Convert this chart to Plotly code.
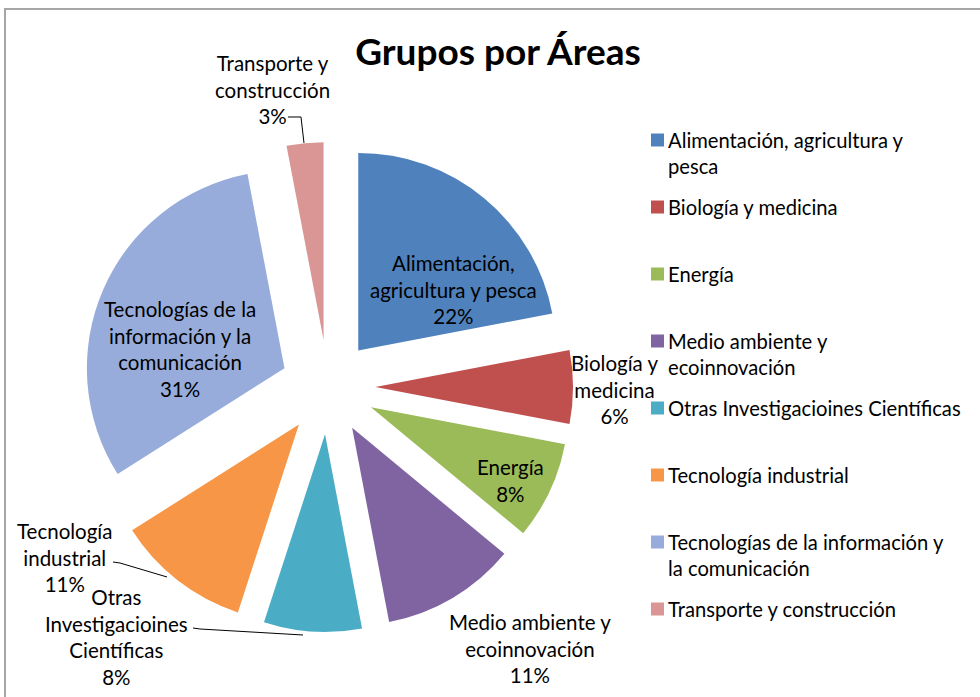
import plotly.graph_objects as go

# ---------------- data ----------------
categories = [
    "Alimentación, agricultura y pesca",
    "Biología y medicina",
    "Energía",
    "Medio ambiente y ecoinnovación",
    "Otras Investigacioines Científicas",
    "Tecnología industrial",
    "Tecnologías de la información y la comunicación",
    "Transporte y construcción",
]
values = [22, 6, 8, 11, 8, 11, 31, 3]
colors = ["#4F81BD", "#C0504D", "#9BBB59", "#8064A2",
          "#4BACC6", "#F79646", "#97ACDA", "#D99694"]

# wrapped texts as laid out on the chart
slice_text_lines = [
    ["Alimentación,", "agricultura y pesca"],
    ["Biología y", "medicina"],
    ["Energía"],
    ["Medio ambiente y", "ecoinnovación"],
    ["Otras", "Investigacioines", "Científicas"],
    ["Tecnología", "industrial"],
    ["Tecnologías de la", "información y la", "comunicación"],
    ["Transporte y", "construcción"],
]
legend_lines = [
    ["Alimentación, agricultura y", "pesca"],
    ["Biología y medicina"],
    ["Energía"],
    ["Medio ambiente y", "ecoinnovación"],
    ["Otras Investigacioines Científicas"],
    ["Tecnología industrial"],
    ["Tecnologías de la información y", "la comunicación"],
    ["Transporte y construcción"],
]
title_text = "Grupos por Áreas"

# ---------------- layout helpers ----------------
W, H = 980, 697
FONT = "Lato"


def px(x):
    return x / W


def py(y):
    return 1 - y / H


# slice label centres (pixels)
label_pos = [(453, 290), (614, 389), (510, 480), (530, 648),
             (116, 637), (64, 557), (180, 349), (272, 89)]

total = sum(values)
pcts = [round(100 * v / total) for v in values]

fig = go.Figure()
fig.add_trace(go.Pie(
    labels=categories,
    values=values,
    marker=dict(colors=colors, line=dict(width=0)),
    sort=False,
    direction="clockwise",
    rotation=0,
    pull=[0.24] * len(values),
    textinfo="none",
    hoverinfo="label+percent",
    showlegend=False,
    domain=dict(x=[px(83), px(573)], y=[py(632), py(142)]),
))

annotations = []
for lines, p, (x, y) in zip(slice_text_lines, pcts, label_pos):
    annotations.append(dict(
        x=px(x), y=py(y), xref="paper", yref="paper",
        text="<br>".join(lines + [f"{p}%"]),
        showarrow=False, xanchor="center", yanchor="middle", align="center",
        font=dict(family=FONT, size=20.5, color="#000000"),
    ))

# manual legend with evenly spaced entries
leg_x0, leg_y0, leg_step, sq = 651, 140, 67, 13
shapes = []
for i, (lines, c) in enumerate(zip(legend_lines, colors)):
    yc = leg_y0 + i * leg_step
    shapes.append(dict(type="rect", xref="paper", yref="paper",
                       x0=px(leg_x0), x1=px(leg_x0 + sq),
                       y0=py(yc + sq / 2), y1=py(yc - sq / 2),
                       fillcolor=c, line=dict(width=0)))
    annotations.append(dict(
        x=px(leg_x0 + sq + 2), y=py(yc - 14), xref="paper", yref="paper",
        text="<br>".join(lines), showarrow=False,
        xanchor="left", yanchor="top", align="left",
        font=dict(family=FONT, size=20.2, color="#000000"),
    ))

# leader lines
leaders = [
    [(288, 117), (301, 117), (304, 143)],
    [(113, 562), (120, 563), (167, 577)],
    [(193, 628), (200, 629), (303, 635)],
]
for pts in leaders:
    path = "M " + " L ".join(f"{px(a):.5f},{py(b):.5f}" for a, b in pts)
    shapes.append(dict(type="path", xref="paper", yref="paper", path=path,
                       line=dict(color="#000000", width=1)))

# chart-area frame
shapes.append(dict(type="rect", xref="paper", yref="paper",
                   x0=px(5), x1=1.02, y0=-0.02, y1=py(9),
                   line=dict(color="#A6A6A6", width=2), fillcolor="rgba(0,0,0,0)"))

fig.update_layout(
    width=W, height=H,
    margin=dict(l=0, r=0, t=0, b=0),
    paper_bgcolor="#FFFFFF",
    plot_bgcolor="#FFFFFF",
    title=dict(text=title_text, x=px(498), y=py(52), xref="paper", yref="paper",
               xanchor="center", yanchor="middle",
               font=dict(family=FONT, size=37, color="#000000", weight="bold")),
    annotations=annotations,
    shapes=shapes,
)

fig.write_html("out.html",
               config={"displayModeBar": False},
               post_script="document.body.style.margin='0';document.body.style.overflow='hidden';")
